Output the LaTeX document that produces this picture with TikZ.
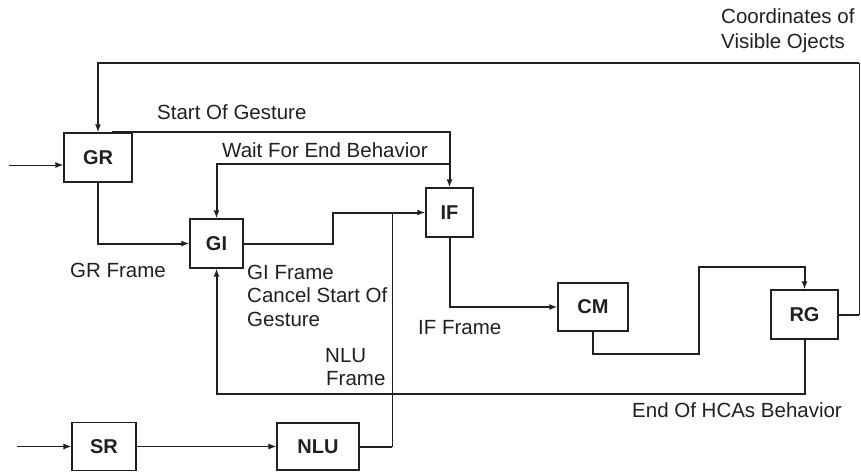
\documentclass[tikz,border=0pt]{standalone}
\usepackage{fontspec}
\setmainfont{Liberation Sans}
\usetikzlibrary{arrows.meta,calc}
\definecolor{ink}{RGB}{35,31,32}
\begin{document}
\begin{tikzpicture}[x=1pt,y=-1pt,
  blk/.style={draw=ink,line width=1.3pt,minimum height=49pt,inner sep=0pt,
    font=\fontsize{20}{24}\selectfont\bfseries,text=ink},
  lbl/.style={anchor=base west,inner sep=0pt,font=\fontsize{20.5}{24}\selectfont,text=ink},
  thk/.style={draw=ink,line width=2pt},
  thinln/.style={draw=ink,line width=1pt},
  arr/.style={-{Latex[length=8pt,width=6pt]}}
]
\useasboundingbox (0,0) rectangle (861,471);

% blocks
\node[blk, minimum width=68pt] (GR) at (98,157.5) {GR};
\node[blk, minimum width=53pt] (GI) at (216.5,243.5) {GI};
\node[blk, minimum width=47pt] (IF) at (449.5,212.5) {IF};
\node[blk, minimum width=70pt, minimum height=48pt] (CM) at (593,307) {CM};
\node[blk, minimum width=67pt] (RG) at (804.5,314.5) {RG};
\node[blk, minimum width=64pt, minimum height=48pt] (SR) at (104,446.5) {SR};
\node[blk, minimum width=82pt, minimum height=47pt] (NLU) at (318,446.5) {NLU};

% bend points
\coordinate (inGR) at (9,165);
\coordinate (inSR) at (17,446.5);
\coordinate (topL) at (98,63);
\coordinate (topR) at (859,63);
\coordinate (rgR) at (859,314.5);
\coordinate (wS) at (449.5,164);
\coordinate (gi1) at (333,228);
\coordinate (nluV) at (392,212.5);
\coordinate (cm1) at (699,354);
\coordinate (cm2) at (740,267);
\coordinate (fb) at (500,394);

% connectors
\draw[thinln,arr] (inGR) -- (inGR -| GR.west);
\draw[thk] (RG.east) -- (rgR);
\draw[thinln] (rgR) -- (topR);
\draw[thk,arr] (topR) -- (topL) -- (GR.north);
\draw[thk,arr] ([xshift=14pt]GR.north) -| (IF.north);
\draw[thk,arr] (wS) -| (GI.north);
\draw[thk,arr] (GR.south) |- (GI.west);
\draw[thk,arr] (GI.east) -| (gi1) |- (IF.west);
\draw[thk] (NLU.east) -- (NLU.east -| nluV);
\draw[thinln] (NLU.east -| nluV) -- (nluV);
\draw[thk,arr] (IF.south) |- (CM.west);
\draw[thk,arr] (CM.south) |- (cm1) |- (cm2) -| (RG.north);
\draw[thk,arr] (RG.south) |- (fb) -| (GI.south);
\draw[thinln,arr] (inSR) -- (SR.west);
\draw[thinln,arr] (SR.east) -- (NLU.west);

% labels
\node[lbl] (lSOG) at (157,119) {Start Of Gesture};
\node[lbl] (lWait) at (222,157) {Wait For End Behavior};
\node[lbl] (lGRF) at (70,277) {GR Frame};
\node[lbl] (lGIF1) at (247,279) {GI Frame};
\node[lbl] (lGIF2) at (247,302.5) {Cancel Start Of};
\node[lbl] (lGIF3) at (247,326) {Gesture};
\node[lbl] (lIFF) at (418,334) {IF Frame};
\node[lbl] (lNLU1) at (325,362) {NLU};
\node[lbl] (lNLU2) at (326,385) {Frame};
\node[lbl] (lEnd) at (632,417) {End Of HCAs Behavior};
\node[lbl] (lCo1) at (721,23) {Coordinates of};
\node[lbl] (lCo2) at (721,48) {Visible Ojects};
\end{tikzpicture}
\end{document}
